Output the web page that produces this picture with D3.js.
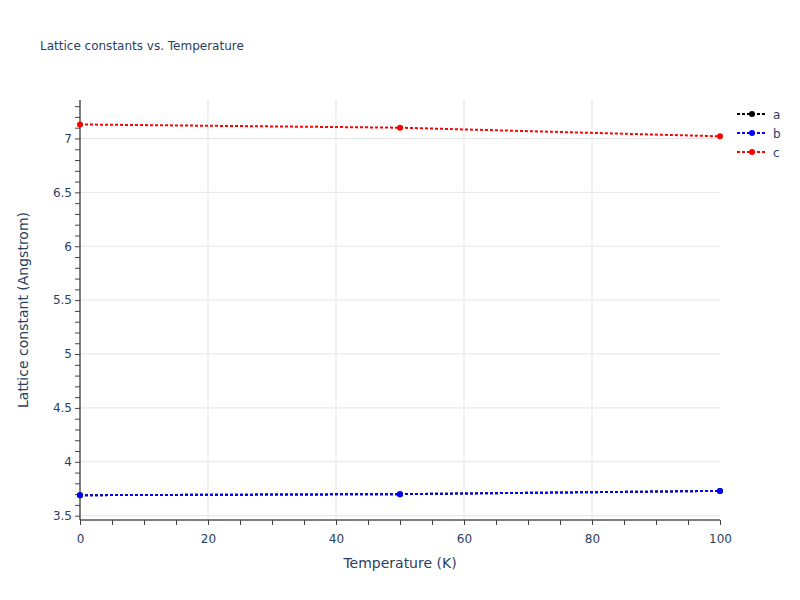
<!DOCTYPE html>
<html>
<head>
<meta charset="utf-8">
<script src="https://cdn.jsdelivr.net/npm/d3@7"></script>
<style>
  body { margin: 0; background: #fff; }
  text { font-family: "DejaVu Sans", verdana, arial, sans-serif; fill: #2a3f5f; }
</style>
</head>
<body>
<script>
var width = 800,
  height = 600;

// data
var temps = [0, 50, 100];
var aVals = [3.69, 3.70, 3.73];
var bVals = [3.69, 3.70, 3.73];
var cVals = [7.13, 7.10, 7.02];
var seriesNames = ["a", "b", "c"];
var seriesColors = ["black", "blue", "red"];
var xTicks = [0, 20, 40, 60, 80, 100];
var yTicks = [3.5, 4, 4.5, 5, 5.5, 6, 6.5, 7];

var margin = {left: 80, right: 80, top: 100, bottom: 80};

var svg = d3.select("body").append("svg")
  .attr("width", width)
  .attr("height", height);

var x = d3.scaleLinear()
  .domain([0, 100])
  .range([margin.left, width - margin.right]);

var y = d3.scaleLinear()
  .domain([3.46, 7.357])
  .range([height - margin.bottom, margin.top]);

// grid
var grid = svg.append("g");
grid.selectAll(".hgrid")
  .data(yTicks)
  .enter().append("line")
    .attr("x1", x(0)).attr("x2", x(100))
    .attr("y1", d => y(d)).attr("y2", d => y(d))
    .attr("stroke", "#e5e5e5").attr("stroke-width", 1);
grid.selectAll(".vgrid")
  .data(xTicks.filter(d => d > 0 && d < 100))
  .enter().append("line")
    .attr("y1", y.range()[0]).attr("y2", y.range()[1])
    .attr("x1", d => x(d)).attr("x2", d => x(d))
    .attr("stroke", "#e5e5e5").attr("stroke-width", 1);

// minor ticks
var yMinor = d3.range(35, 74).map(d => d / 10);
var xMinor = d3.range(0, 101, 5);

var xAxis = svg.append("g")
  .attr("transform", "translate(0," + (height - margin.bottom) + ")")
  .call(d3.axisBottom(x).tickValues(xMinor).tickSize(5).tickFormat(""));
xAxis.select(".domain").attr("stroke", "#000").attr("d", "M" + x(0) + ",0H" + x(100));
xAxis.selectAll(".tick line").attr("stroke", "#444");

var xLabels = svg.append("g")
  .attr("transform", "translate(0," + (height - margin.bottom) + ")")
  .call(d3.axisBottom(x).tickValues(xTicks).tickSize(0).tickPadding(14));
xLabels.select(".domain").remove();
xLabels.selectAll("text").style("font-size", "12px").attr("fill", "#2a3f5f");

var yAxis = svg.append("g")
  .attr("transform", "translate(" + margin.left + ",0)")
  .call(d3.axisLeft(y).tickValues(yMinor).tickSize(5).tickFormat(""));
yAxis.select(".domain").attr("stroke", "#000").attr("d", "M0," + y.range()[0] + "V" + y.range()[1]);
yAxis.selectAll(".tick line").attr("stroke", "#444");

var yLabels = svg.append("g")
  .attr("transform", "translate(" + margin.left + ",0)")
  .call(d3.axisLeft(y).tickValues(yTicks).tickSize(0).tickPadding(8).tickFormat(d3.format("")));
yLabels.select(".domain").remove();
yLabels.selectAll("text").style("font-size", "12px").attr("fill", "#2a3f5f");

// series
var series = [aVals, bVals, cVals].map(function(vals, i) {
  return {name: seriesNames[i], color: seriesColors[i],
    points: vals.map((v, j) => ({t: temps[j], v: v}))};
});

var line = d3.line().x(d => x(d.t)).y(d => y(d.v));

var plot = svg.append("g");
series.forEach(function(s) {
  plot.append("path")
    .datum(s.points)
    .attr("d", line)
    .attr("fill", "none")
    .attr("stroke", s.color)
    .attr("stroke-width", 2)
    .attr("stroke-dasharray", "3,2");
  plot.selectAll(null)
    .data(s.points)
    .enter().append("circle")
      .attr("cx", d => x(d.t))
      .attr("cy", d => y(d.v))
      .attr("r", 3)
      .attr("fill", s.color);
});

// legend
var legend = svg.append("g").attr("transform", "translate(737,114)");
series.forEach(function(s, i) {
  var g = legend.append("g").attr("transform", "translate(0," + (i * 19) + ")");
  g.append("line")
    .attr("x1", 0).attr("x2", 28)
    .attr("stroke", s.color).attr("stroke-width", 2)
    .attr("stroke-dasharray", "3,2");
  g.append("circle").attr("cx", 15).attr("r", 3).attr("fill", s.color);
  g.append("text").attr("x", 36).attr("y", 4.5)
    .style("font-size", "12px").text(s.name);
});

// titles
svg.append("text")
  .attr("x", 40).attr("y", 50)
  .style("font-size", "12px")
  .text("Lattice constants vs. Temperature");

svg.append("text")
  .attr("x", 400).attr("y", 568)
  .attr("text-anchor", "middle")
  .style("font-size", "14px")
  .text("Temperature (K)");

svg.append("text")
  .attr("transform", "translate(28,310) rotate(-90)")
  .attr("text-anchor", "middle")
  .style("font-size", "14px")
  .text("Lattice constant (Angstrom)");
</script>
</body>
</html>
